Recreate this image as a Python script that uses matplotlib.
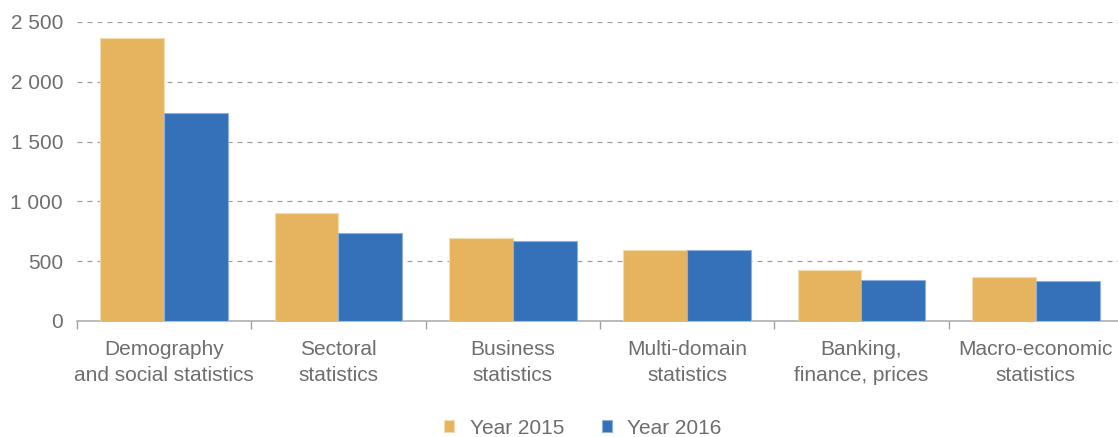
import matplotlib
matplotlib.use("Agg")
import matplotlib.pyplot as plt
import numpy as np
from matplotlib.ticker import FuncFormatter, FixedLocator

plt.rcParams['font.family'] = ['Liberation Sans', 'DejaVu Sans']

categories = ["Demography\nand social statistics", "Sectoral\nstatistics", "Business\nstatistics",
              "Multi-domain\nstatistics", "Banking,\nfinance, prices", "Macro-economic\nstatistics"]
year_2015 = [2370, 900, 697, 591, 429, 365]
year_2016 = [1737, 733, 666, 594, 340, 332]
series_labels = ["Year 2015", "Year 2016"]
yticks = [0, 500, 1000, 1500, 2000, 2500]

c15 = "#E6B45E"
c16 = "#3471B8"
txt = "#6E6E6E"

fig = plt.figure(figsize=(11.18, 4.37), dpi=100)
ax = fig.add_axes([77/1118, 116/437, 1046/1118, 299/437])

x = np.arange(len(categories))
w = 0.367
ax.bar(x - w/2, year_2015, w, color=c15, edgecolor="#F3DDB0", linewidth=0.8, label=series_labels[0], zorder=3)
ax.bar(x + w/2, year_2016, w, color=c16, edgecolor="#8FB0DA", linewidth=0.8, label=series_labels[1], zorder=3)

ax.set_xlim(-0.5, len(categories) - 0.5)
ax.set_ylim(0, 2500)
ax.set_yticks(yticks)
ax.yaxis.set_major_formatter(FuncFormatter(lambda v, p: f"{int(v):,}".replace(",", " ")))
ax.grid(axis='y', linestyle=(0, (4, 4)), color="#A0A0A0", linewidth=0.9, zorder=0)

ax.set_xticks(x)
ax.set_xticklabels(categories, linespacing=1.45)
ax.xaxis.set_minor_locator(FixedLocator(np.arange(-0.5, len(categories), 1.0)))
ax.tick_params(axis='x', which='major', length=0, pad=14, labelsize=15, labelcolor=txt)
ax.tick_params(axis='x', which='minor', length=6, color="#A0A0A0", width=1)
ax.tick_params(axis='y', length=0, pad=10, labelsize=15, labelcolor=txt)

for s in ['top', 'right', 'left']:
    ax.spines[s].set_visible(False)
ax.spines['bottom'].set_color("#B0B0B0")
ax.spines['bottom'].set_linewidth(1.2)
ax.set_axisbelow(True)

handles, labels = ax.get_legend_handles_labels()
fig.legend(handles, labels, loc='center', bbox_to_anchor=(583/1118, 1 - 428/437), ncol=2,
           frameon=False, fontsize=15, labelcolor=txt, handlelength=0.48, handleheight=0.48,
           columnspacing=1.8, handletextpad=0.75)

fig.savefig("out.png", dpi=100)
